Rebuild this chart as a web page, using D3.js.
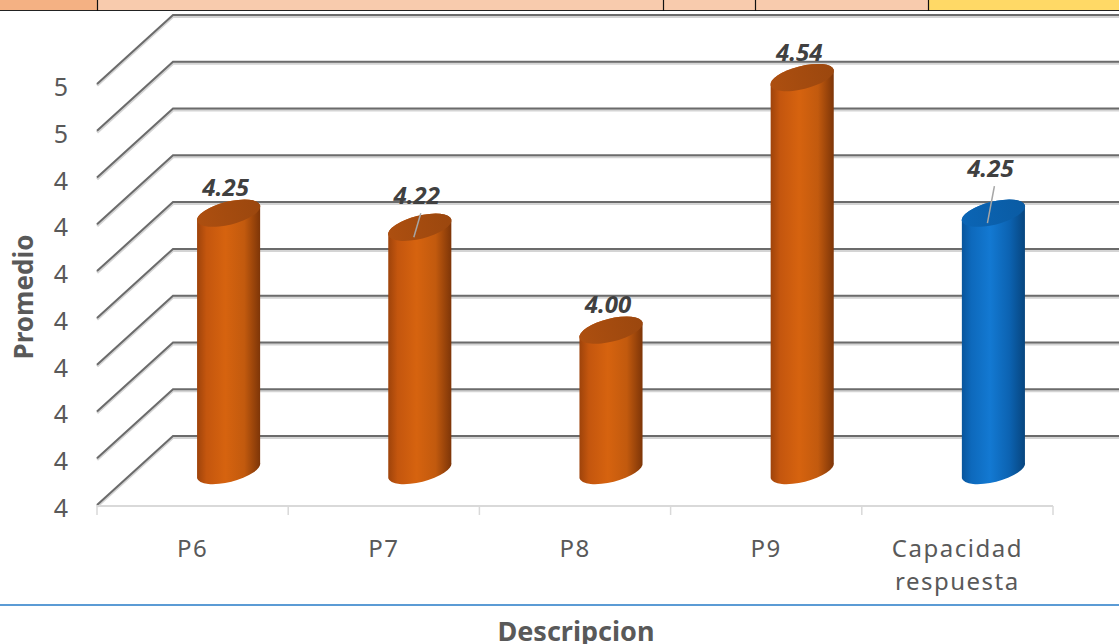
<!DOCTYPE html>
<html><head><meta charset="utf-8">
<script src="https://cdn.jsdelivr.net/npm/d3@7"></script>
<style>html,body{margin:0;padding:0;background:#fff;}svg{display:block;}</style>
</head><body>
<script>
const categories = ["P6", "P7", "P8", "P9", "Capacidad respuesta"];
const values = [4.25, 4.22, 4.00, 4.54, 4.25];
const valueLabels = ["4.25", "4.22", "4.00", "4.54", "4.25"];
const yTickValues = [3.7, 3.8, 3.9, 4.0, 4.1, 4.2, 4.3, 4.4, 4.5, 4.6];
const yTickLabels = ["4", "4", "4", "4", "4", "4", "4", "4", "5", "5"];
const xTitle = "Descripcion";
const yTitle = "Promedio";

// layout / style config
const W = 1119, H = 644;
const depth = {dx: 76, dy: -69};
const labelLayout = {
  "P7": {dy: -23, leader: true},
  "Capacidad respuesta": {dy: -36, leader: true}
};
const palette = {
  orange: {stops: ["#9E430B", "#C4560E", "#D6630F", "#C25A0E", "#7D3508"], top: "#9B470E"},
  blue: {stops: ["#08559C", "#0D69BC", "#1379D2", "#0C63B2", "#07457E"], top: "#0A5BA3"}
};

const svg = d3.select("body").append("svg").attr("width", W).attr("height", H);
const defs = svg.append("defs");
Object.entries(palette).forEach(([k, p]) => {
  const g = defs.append("linearGradient").attr("id", "g-" + k).attr("x1", 0).attr("x2", 1).attr("y1", 0).attr("y2", 0);
  [0, 0.15, 0.45, 0.75, 1].forEach((o, i) => g.append("stop").attr("offset", o).attr("stop-color", p.stops[i]));
  const t = defs.append("linearGradient").attr("id", "t-" + k).attr("x1", 0).attr("x2", 1).attr("y1", 0).attr("y2", 0);
  t.append("stop").attr("offset", 0).attr("stop-color", d3.color(p.top).brighter(0.3));
  t.append("stop").attr("offset", 1).attr("stop-color", p.top);
});

// top strip (spreadsheet remnant)
const strip = svg.append("g");
[[0, 97, "#F4B183"], [97, 928, "#F8CBAD"], [928, W, "#FFD966"]].forEach(([a, b, c]) =>
  strip.append("rect").attr("x", a).attr("y", 0).attr("width", b - a).attr("height", 10).attr("fill", c));
strip.append("line").attr("x1", 0).attr("x2", W).attr("y1", 10.5).attr("y2", 10.5).attr("stroke", "#222").attr("stroke-width", 1.2);
[97, 663, 755, 928].forEach(x => strip.append("line").attr("x1", x + 0.5).attr("x2", x + 0.5).attr("y1", 0).attr("y2", 11).attr("stroke", "#111").attr("stroke-width", 1.2));

// scales (front plane)
const x = d3.scaleBand().domain(categories).range([97, 1053]).paddingInner(0).paddingOuter(0);
const y = d3.scaleLinear().domain([3.7, 4.6]).range([505, 84]);

// back wall gridlines + side wall diagonals
const grid = svg.append("g");
yTickValues.forEach(v => {
  const yf = y(v), yb = yf + depth.dy, xb = 97 + depth.dx;
  grid.append("path").attr("d", `M${97},${yf + 1.5}L${xb},${yb + 1.5}L${W},${yb + 1.5}`)
    .attr("fill", "none").attr("stroke", "#d4d4d4").attr("stroke-width", 3);
  grid.append("path").attr("d", `M${97},${yf}L${xb},${yb}L${W},${yb}`)
    .attr("fill", "none").attr("stroke", "#6b6b6b").attr("stroke-width", 2);
});

// x axis (front floor edge)
const ax = svg.append("g");
ax.append("line").attr("x1", 97).attr("x2", 1053).attr("y1", 506).attr("y2", 506).attr("stroke", "#d9d9d9").attr("stroke-width", 2);
const tickXs = categories.map(c => x(c)).concat([x.range()[1]]);
tickXs.forEach(t => ax.append("line").attr("x1", t).attr("x2", t).attr("y1", 506).attr("y2", 515).attr("stroke", "#d9d9d9").attr("stroke-width", 1.5));

// y tick labels
const yl = svg.append("g").attr("font-family", "'Noto Sans', sans-serif").attr("font-size", 25).attr("fill", "#595959").attr("text-anchor", "end");
yTickValues.forEach((v, i) => yl.append("text").attr("x", 68).attr("y", y(v) + 12).text(yTickLabels[i]));

// category labels
const cl = svg.append("g").attr("font-family", "'Noto Sans', sans-serif").attr("font-size", 24)
  .attr("letter-spacing", 1.5).attr("fill", "#595959").attr("text-anchor", "middle");
categories.forEach(c => {
  const words = c.split(" ");
  const cx = x(c) + x.bandwidth() / 2;
  words.forEach((w, i) => cl.append("text").attr("x", cx).attr("y", 557 + i * 33).text(w));
});

// cylinders
const rx = 32.5, ry = 11.5, rot = -14;
const cr = Math.cos(rot * Math.PI / 180), sr = Math.sin(rot * Math.PI / 180);
const mid = {dx: depth.dx / 2 - 2, dy: depth.dy / 2};
const bars = svg.append("g");
const labels = svg.append("g").attr("font-family", "'Open Sans', sans-serif").attr("font-size", 24)
  .attr("font-weight", "bold").attr("font-style", "italic").attr("fill", "#404040").attr("text-anchor", "middle");
categories.forEach((c, i) => {
  const key = i === categories.length - 1 ? "blue" : "orange";
  const cx = x(c) + x.bandwidth() / 2 + mid.dx;
  const yt = y(values[i]) + mid.dy;
  const yb = y(3.7) + mid.dy;
  const L = yy => [cx - rx * cr, yy - rx * sr], R = yy => [cx + rx * cr, yy + rx * sr];
  const [lx, lyt] = L(yt), [, lyb] = L(yb), [rxp, ryt] = R(yt), [, ryb] = R(yb);
  bars.append("path")
    .attr("d", `M${lx},${lyt}L${lx},${lyb}A${rx},${ry} ${rot} 0 0 ${rxp},${ryb}L${rxp},${ryt}A${rx},${ry} ${rot} 0 0 ${lx},${lyt}Z`)
    .attr("fill", `url(#g-${key})`);
  bars.append("ellipse").attr("cx", cx).attr("cy", yt).attr("rx", rx).attr("ry", ry)
    .attr("transform", `rotate(${rot} ${cx} ${yt})`).attr("fill", `url(#t-${key})`);
  const lay = labelLayout[c] || {dy: -17};
  const lx2 = cx - 3, ly = yt + lay.dy;
  if (lay.leader) {
    bars.append("line").attr("x1", cx + 1).attr("y1", ly + 9).attr("x2", cx - 6).attr("y2", yt + 10)
      .attr("stroke", "#a6a6a6").attr("stroke-width", 1.5);
  }
  labels.append("text").attr("x", lx2).attr("y", ly).text(valueLabels[i]);
});

// titles
svg.append("text").attr("transform", "translate(33,297) rotate(-90)").attr("text-anchor", "middle")
  .attr("font-family", "'Noto Sans', sans-serif").attr("font-weight", "bold").attr("font-size", 26).attr("fill", "#595959").text(yTitle);
svg.append("line").attr("x1", 0).attr("x2", W).attr("y1", 605).attr("y2", 605).attr("stroke", "#5B9BD5").attr("stroke-width", 2);
svg.append("text").attr("x", 576).attr("y", 641).attr("text-anchor", "middle")
  .attr("font-family", "'Noto Sans', sans-serif").attr("font-weight", "bold").attr("font-size", 27).attr("fill", "#595959").text(xTitle);
</script>
</body></html>
